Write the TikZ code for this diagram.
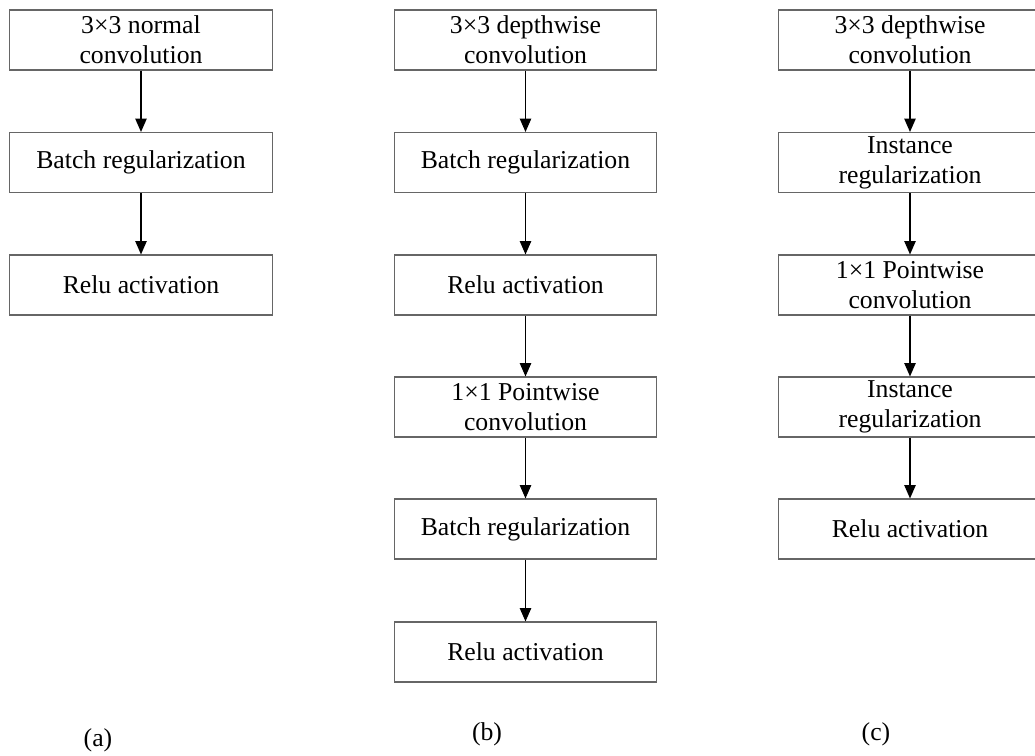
\documentclass[tikz,border=0pt]{standalone}
\usepackage{fontspec}
\setmainfont{Liberation Serif}
\usetikzlibrary{arrows.meta}
\begin{document}
\begin{tikzpicture}[x=0.75pt,y=-0.75pt,
  blk/.style={draw=black!60, line width=0.8pt, fill=white,
    minimum width=197pt, minimum height=45pt, inner sep=0pt,
    align=center, font=\fontsize{19.3}{22.5}\selectfont},
  flow/.style={draw=black, line width=1pt,
    -{Triangle[length=10pt,width=8.5pt]}},
  sublabel/.style={font=\fontsize{19.3}{22.5}\selectfont}]
\useasboundingbox (0,0) rectangle (1035,756);
\clip (0,0) rectangle (1035,756);

% column (a): standard convolution
\node[blk] (a1) at (141,40)    {3×3 normal\\convolution};
\node[blk] (a2) at (141,162.5) {Batch regularization};
\node[blk] (a3) at (141,285)   {Relu activation};
\draw[flow] (a1) -- (a2);
\draw[flow] (a2) -- (a3);

% column (b): depthwise separable convolution with batch norm
\node[blk] (b1) at (525.5,40)    {3×3 depthwise\\convolution};
\node[blk] (b2) at (525.5,162.5) {Batch regularization};
\node[blk] (b3) at (525.5,285)   {Relu activation};
\node[blk] (b4) at (525.5,407)   {1×1 Pointwise\\convolution};
\node[blk] (b5) at (525.5,529)   {Batch regularization};
\node[blk] (b6) at (525.5,652)   {Relu activation};
\draw[flow] (b1) -- (b2);
\draw[flow] (b2) -- (b3);
\draw[flow] (b3) -- (b4);
\draw[flow] (b4) -- (b5);
\draw[flow] (b5) -- (b6);

% column (c): depthwise separable convolution with instance norm
\node[blk] (c1) at (910,40)    {3×3 depthwise\\convolution};
\node[blk] (c2) at (910,162.5) {Instance\\regularization};
\node[blk] (c3) at (910,285)   {1×1 Pointwise\\convolution};
\node[blk] (c4) at (910,407)   {Instance\\regularization};
\node[blk] (c5) at (910,529)   {Relu activation};
\draw[flow] (c1) -- (c2);
\draw[flow] (c2) -- (c3);
\draw[flow] (c3) -- (c4);
\draw[flow] (c4) -- (c5);

% sub-figure captions
\node[sublabel] (la) at (98,740)  {(a)};
\node[sublabel] (lb) at (487,734) {(b)};
\node[sublabel] (lc) at (876,734) {(c)};
\end{tikzpicture}
\end{document}
